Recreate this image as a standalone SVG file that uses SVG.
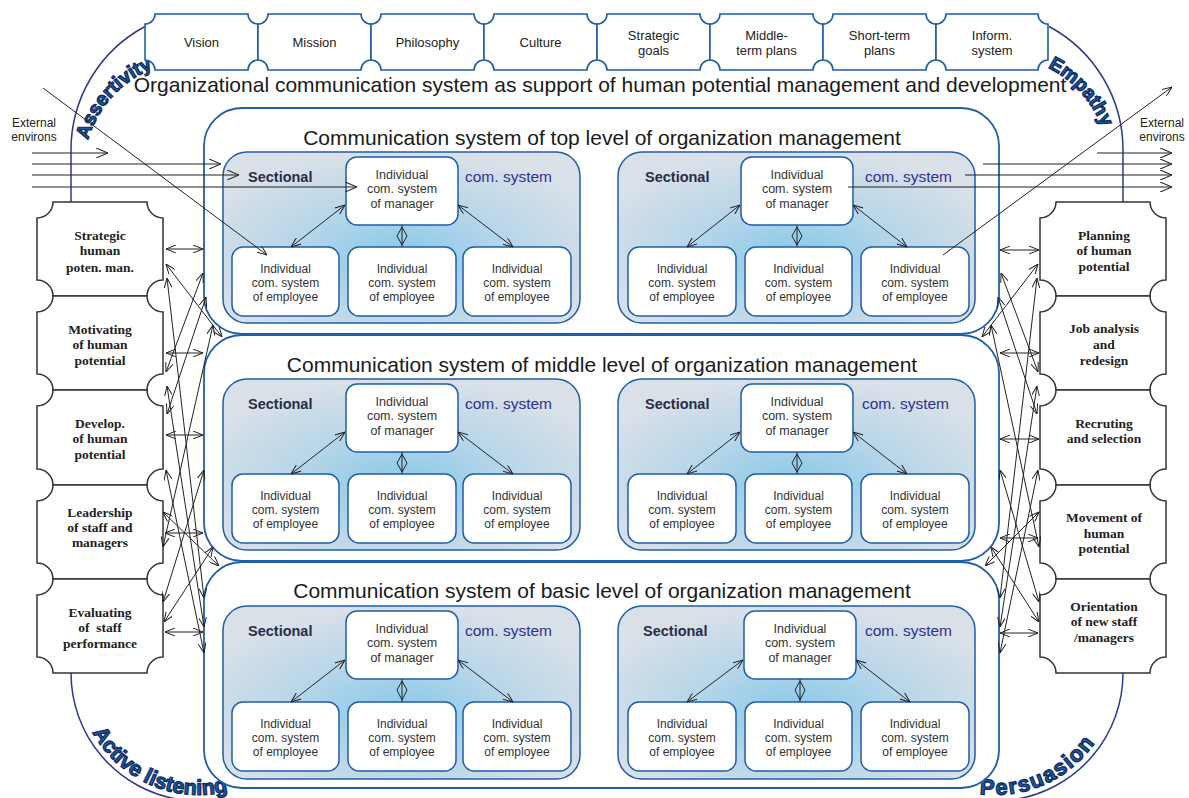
<svg xmlns="http://www.w3.org/2000/svg" width="1189" height="798" viewBox="0 0 1189 798">
<style>
.cell{fill:#fff;stroke:#1f5ea8;stroke-width:1.6}
.lvl{fill:#fff;stroke:#1f5ea8;stroke-width:1.8}
.sec{fill:url(#sg);stroke:#1f5ea8;stroke-width:1.5}
.ibox{fill:#fff;stroke:#1f5ea8;stroke-width:1.5}
.hbox{fill:#fff;stroke:#333;stroke-width:1.5}
.ln{stroke:#222;stroke-width:1;fill:none}
.ln2{stroke:#222;stroke-width:1;fill:none;marker-start:url(#ah);marker-end:url(#ah)}
.ln1{stroke:#222;stroke-width:1;fill:none;marker-end:url(#ah)}
.ext{stroke:#222;stroke-width:1.2;fill:none;marker-end:url(#ahL)}
.arc{stroke:#2b3990;stroke-width:1.5;fill:none}
.t{font-family:"Liberation Sans",Arial,sans-serif;fill:#222;text-anchor:middle}
.bt{font-size:13px}
.title{font-size:21px;fill:#1a1a1a}
.lt{font-size:21px;fill:#1a1a1a}
.it{font-size:12.5px;fill:#333}
.et{font-size:12px;fill:#333}
.sl{font-family:"Liberation Sans",Arial,sans-serif;font-size:14.5px;font-weight:bold;fill:#2b2d45}
.cs{font-family:"Liberation Sans",Arial,sans-serif;font-size:15.5px;fill:#2e3192}
.ht{font-family:"Liberation Serif","Times New Roman",serif;font-weight:bold;font-size:13.5px;fill:#222;text-anchor:middle}
.env{font-family:"Liberation Sans",Arial,sans-serif;font-size:12px;fill:#222;text-anchor:middle}
.sk{font-family:"Liberation Sans",Arial,sans-serif;font-weight:bold;fill:#1c5aa6;stroke:#0d2b5e;stroke-width:1.2}
</style>
<defs>
<radialGradient id="sg" cx="0.5" cy="0.6" r="0.6" fx="0.5" fy="0.62">
<stop offset="0" stop-color="#86c8ea"/>
<stop offset="0.5" stop-color="#b6d6e9"/>
<stop offset="1" stop-color="#d9e0e8"/>
</radialGradient>
<marker id="ah" viewBox="0 0 10 8" refX="10" refY="4" markerWidth="10" markerHeight="8" markerUnits="userSpaceOnUse" orient="auto-start-reverse">
<path d="M0,0 L10,4 L0,8" fill="none" stroke="#222" stroke-width="1"/>
</marker>
<marker id="ahL" viewBox="0 0 12 10" refX="12" refY="5" markerWidth="12" markerHeight="10" markerUnits="userSpaceOnUse" orient="auto-start-reverse">
<path d="M0,0 L12,5 L0,10" fill="none" stroke="#222" stroke-width="1.1"/>
</marker>
<path id="pA" d="M88,140 A110,110 0 0 1 160,66"/>
<path id="pE" d="M1044,66 A110,110 0 0 1 1106,140"/>
<path id="pL" d="M77,673 A122,122 0 0 0 321,673"/>
<path id="pP" d="M873,673 A122,122 0 0 0 1117,673"/>
</defs>

<g id="outer-frame">
<path class="arc" d="M71,202 L71,150 A140,140 0 0 1 145,26.5"/>
<path class="arc" d="M1123,202 L1123,150 A140,140 0 0 0 1049,26.5"/>
<path class="arc" d="M71,673 A128,128 0 0 0 180,799.6"/>
<path class="arc" d="M1123,673 A128,128 0 0 1 1014,799.6"/>
<text class="sk" font-size="19.5"><textPath href="#pA">Assertivity</textPath></text>
<text class="sk" font-size="19.5"><textPath href="#pE" startOffset="4">Empathy</textPath></text>
<text class="sk" font-size="21.5"><textPath href="#pL" startOffset="62">Active listening</textPath></text>
<text class="sk" font-size="22" letter-spacing="1.5"><textPath href="#pP" startOffset="176">Persuasion</textPath></text>
</g>

<g id="banner">
<g id="cell-vision"><path class="cell" d="M155,14 L248,14 A10,10 0 0 0 258,24 L258,60 A10,10 0 0 0 248,70 L155,70 A10,10 0 0 0 145,60 L145,24 A10,10 0 0 0 155,14 Z"/><text class="t bt" x="201.5" y="46.5">Vision</text></g>
<g id="cell-mission"><path class="cell" d="M268,14 L361,14 A10,10 0 0 0 371,24 L371,60 A10,10 0 0 0 361,70 L268,70 A10,10 0 0 0 258,60 L258,24 A10,10 0 0 0 268,14 Z"/><text class="t bt" x="314.5" y="46.5">Mission</text></g>
<g id="cell-philosophy"><path class="cell" d="M381,14 L474,14 A10,10 0 0 0 484,24 L484,60 A10,10 0 0 0 474,70 L381,70 A10,10 0 0 0 371,60 L371,24 A10,10 0 0 0 381,14 Z"/><text class="t bt" x="427.5" y="46.5">Philosophy</text></g>
<g id="cell-culture"><path class="cell" d="M494,14 L587,14 A10,10 0 0 0 597,24 L597,60 A10,10 0 0 0 587,70 L494,70 A10,10 0 0 0 484,60 L484,24 A10,10 0 0 0 494,14 Z"/><text class="t bt" x="540.5" y="46.5">Culture</text></g>
<g id="cell-goals"><path class="cell" d="M607,14 L700,14 A10,10 0 0 0 710,24 L710,60 A10,10 0 0 0 700,70 L607,70 A10,10 0 0 0 597,60 L597,24 A10,10 0 0 0 607,14 Z"/><text class="t bt" x="653.5" y="39.5">Strategic</text><text class="t bt" x="653.5" y="55">goals</text></g>
<g id="cell-middle"><path class="cell" d="M720,14 L813,14 A10,10 0 0 0 823,24 L823,60 A10,10 0 0 0 813,70 L720,70 A10,10 0 0 0 710,60 L710,24 A10,10 0 0 0 720,14 Z"/><text class="t bt" x="766.5" y="39.5">Middle-</text><text class="t bt" x="766.5" y="55">term plans</text></g>
<g id="cell-short"><path class="cell" d="M833,14 L926,14 A10,10 0 0 0 936,24 L936,60 A10,10 0 0 0 926,70 L833,70 A10,10 0 0 0 823,60 L823,24 A10,10 0 0 0 833,14 Z"/><text class="t bt" x="879.5" y="39.5">Short-term</text><text class="t bt" x="879.5" y="55">plans</text></g>
<g id="cell-inform"><path class="cell" d="M946,14 L1038,14 A10,10 0 0 0 1048,24 L1048,60 A10,10 0 0 0 1038,70 L946,70 A10,10 0 0 0 936,60 L936,24 A10,10 0 0 0 946,14 Z"/><text class="t bt" x="992" y="39.5">Inform.</text><text class="t bt" x="992" y="55">system</text></g>
</g>

<text id="main-title" class="t title" x="600" y="92">Organizational communication system as support of human potential management and development</text>

<g id="level-top"><rect class="lvl" x="204" y="108" width="795" height="226" rx="38"/><text class="t lt" x="602" y="145">Communication system of top level of organization management</text></g>
<g id="level-middle"><rect class="lvl" x="204" y="335" width="795" height="226" rx="38"/><text class="t lt" x="602" y="372">Communication system of middle level of organization management</text></g>
<g id="level-basic"><rect class="lvl" x="204" y="562" width="795" height="226" rx="38"/><text class="t lt" x="602" y="598">Communication system of basic level of organization management</text></g>

<!-- Sectional top-left -->
<g id="sec-top-left">
<rect class="sec" x="223" y="152" width="357" height="171" rx="24"/>
<text class="sl" x="248" y="182">Sectional</text><text class="cs" x="465" y="182">com. system</text>
<g id="mgr-tl"><rect class="ibox" x="346" y="157" width="112" height="68" rx="11"/><text class="t it" x="402" y="178.5">Individual</text><text class="t it" x="402" y="193">com. system</text><text class="t it" x="402" y="207.5">of manager</text></g>
<g id="emp-tl-1"><rect class="ibox" x="232" y="247" width="107" height="69" rx="11"/><text class="t et" x="285.5" y="272.5">Individual</text><text class="t et" x="285.5" y="286.5">com. system</text><text class="t et" x="285.5" y="300.5">of employee</text></g>
<g id="emp-tl-2"><rect class="ibox" x="348" y="247" width="108" height="69" rx="11"/><text class="t et" x="402" y="272.5">Individual</text><text class="t et" x="402" y="286.5">com. system</text><text class="t et" x="402" y="300.5">of employee</text></g>
<g id="emp-tl-3"><rect class="ibox" x="463" y="247" width="108" height="69" rx="11"/><text class="t et" x="517" y="272.5">Individual</text><text class="t et" x="517" y="286.5">com. system</text><text class="t et" x="517" y="300.5">of employee</text></g>
</g>
<!-- Sectional top-right -->
<g id="sec-top-right">
<rect class="sec" x="618" y="152" width="357" height="171" rx="24"/>
<text class="sl" x="645" y="182">Sectional</text><text class="cs" x="865" y="182">com. system</text>
<g id="mgr-tr"><rect class="ibox" x="741" y="157" width="112" height="68" rx="11"/><text class="t it" x="797" y="178.5">Individual</text><text class="t it" x="797" y="193">com. system</text><text class="t it" x="797" y="207.5">of manager</text></g>
<g id="emp-tr-1"><rect class="ibox" x="628" y="247" width="108" height="69" rx="11"/><text class="t et" x="682" y="272.5">Individual</text><text class="t et" x="682" y="286.5">com. system</text><text class="t et" x="682" y="300.5">of employee</text></g>
<g id="emp-tr-2"><rect class="ibox" x="745" y="247" width="107" height="69" rx="11"/><text class="t et" x="798.5" y="272.5">Individual</text><text class="t et" x="798.5" y="286.5">com. system</text><text class="t et" x="798.5" y="300.5">of employee</text></g>
<g id="emp-tr-3"><rect class="ibox" x="861" y="247" width="108" height="69" rx="11"/><text class="t et" x="915" y="272.5">Individual</text><text class="t et" x="915" y="286.5">com. system</text><text class="t et" x="915" y="300.5">of employee</text></g>
</g>

<!-- Sectional middle-left -->
<g id="sec-mid-left">
<rect class="sec" x="223" y="379" width="357" height="171" rx="24"/>
<text class="sl" x="248" y="409">Sectional</text><text class="cs" x="465" y="409">com. system</text>
<g id="mgr-ml"><rect class="ibox" x="346" y="384" width="112" height="68" rx="11"/><text class="t it" x="402" y="405.5">Individual</text><text class="t it" x="402" y="420">com. system</text><text class="t it" x="402" y="434.5">of manager</text></g>
<g id="emp-ml-1"><rect class="ibox" x="232" y="474" width="107" height="69" rx="11"/><text class="t et" x="285.5" y="499.5">Individual</text><text class="t et" x="285.5" y="513.5">com. system</text><text class="t et" x="285.5" y="527.5">of employee</text></g>
<g id="emp-ml-2"><rect class="ibox" x="348" y="474" width="108" height="69" rx="11"/><text class="t et" x="402" y="499.5">Individual</text><text class="t et" x="402" y="513.5">com. system</text><text class="t et" x="402" y="527.5">of employee</text></g>
<g id="emp-ml-3"><rect class="ibox" x="463" y="474" width="108" height="69" rx="11"/><text class="t et" x="517" y="499.5">Individual</text><text class="t et" x="517" y="513.5">com. system</text><text class="t et" x="517" y="527.5">of employee</text></g>
</g>
<!-- Sectional middle-right -->
<g id="sec-mid-right">
<rect class="sec" x="618" y="379" width="357" height="171" rx="24"/>
<text class="sl" x="645" y="409">Sectional</text><text class="cs" x="862" y="409">com. system</text>
<g id="mgr-mr"><rect class="ibox" x="741" y="384" width="112" height="68" rx="11"/><text class="t it" x="797" y="405.5">Individual</text><text class="t it" x="797" y="420">com. system</text><text class="t it" x="797" y="434.5">of manager</text></g>
<g id="emp-mr-1"><rect class="ibox" x="628" y="474" width="108" height="69" rx="11"/><text class="t et" x="682" y="499.5">Individual</text><text class="t et" x="682" y="513.5">com. system</text><text class="t et" x="682" y="527.5">of employee</text></g>
<g id="emp-mr-2"><rect class="ibox" x="745" y="474" width="107" height="69" rx="11"/><text class="t et" x="798.5" y="499.5">Individual</text><text class="t et" x="798.5" y="513.5">com. system</text><text class="t et" x="798.5" y="527.5">of employee</text></g>
<g id="emp-mr-3"><rect class="ibox" x="861" y="474" width="108" height="69" rx="11"/><text class="t et" x="915" y="499.5">Individual</text><text class="t et" x="915" y="513.5">com. system</text><text class="t et" x="915" y="527.5">of employee</text></g>
</g>

<!-- Sectional basic-left -->
<g id="sec-bas-left">
<rect class="sec" x="223" y="606" width="357" height="173" rx="24"/>
<text class="sl" x="248" y="636">Sectional</text><text class="cs" x="465" y="636">com. system</text>
<g id="mgr-bl"><rect class="ibox" x="346" y="611" width="112" height="68" rx="11"/><text class="t it" x="402" y="632.5">Individual</text><text class="t it" x="402" y="647">com. system</text><text class="t it" x="402" y="661.5">of manager</text></g>
<g id="emp-bl-1"><rect class="ibox" x="232" y="702" width="107" height="69" rx="11"/><text class="t et" x="285.5" y="727.5">Individual</text><text class="t et" x="285.5" y="741.5">com. system</text><text class="t et" x="285.5" y="755.5">of employee</text></g>
<g id="emp-bl-2"><rect class="ibox" x="348" y="702" width="108" height="69" rx="11"/><text class="t et" x="402" y="727.5">Individual</text><text class="t et" x="402" y="741.5">com. system</text><text class="t et" x="402" y="755.5">of employee</text></g>
<g id="emp-bl-3"><rect class="ibox" x="463" y="702" width="108" height="69" rx="11"/><text class="t et" x="517" y="727.5">Individual</text><text class="t et" x="517" y="741.5">com. system</text><text class="t et" x="517" y="755.5">of employee</text></g>
</g>
<!-- Sectional basic-right -->
<g id="sec-bas-right">
<rect class="sec" x="618" y="606" width="357" height="173" rx="24"/>
<text class="sl" x="643" y="636">Sectional</text><text class="cs" x="865" y="636">com. system</text>
<g id="mgr-br"><rect class="ibox" x="744" y="611" width="112" height="68" rx="11"/><text class="t it" x="800" y="632.5">Individual</text><text class="t it" x="800" y="647">com. system</text><text class="t it" x="800" y="661.5">of manager</text></g>
<g id="emp-br-1"><rect class="ibox" x="628" y="702" width="108" height="69" rx="11"/><text class="t et" x="682" y="727.5">Individual</text><text class="t et" x="682" y="741.5">com. system</text><text class="t et" x="682" y="755.5">of employee</text></g>
<g id="emp-br-2"><rect class="ibox" x="745" y="702" width="107" height="69" rx="11"/><text class="t et" x="798.5" y="727.5">Individual</text><text class="t et" x="798.5" y="741.5">com. system</text><text class="t et" x="798.5" y="755.5">of employee</text></g>
<g id="emp-br-3"><rect class="ibox" x="861" y="702" width="108" height="69" rx="11"/><text class="t et" x="915" y="727.5">Individual</text><text class="t et" x="915" y="741.5">com. system</text><text class="t et" x="915" y="755.5">of employee</text></g>
</g>

<!-- Left HR boxes -->
<g id="left-1"><path class="hbox" d="M53,202 L147,202 A16,16 0 0 0 163,218 L163,280 A16,16 0 0 0 147,296 L53,296 A16,16 0 0 0 37,280 L37,218 A16,16 0 0 0 53,202 Z"/><text class="ht" x="100" y="239.5">Strategic</text><text class="ht" x="100" y="255">human</text><text class="ht" x="100" y="271.5">poten. man.</text></g>
<g id="left-2"><path class="hbox" d="M53,296 L147,296 A16,16 0 0 0 163,312 L163,374 A16,16 0 0 0 147,390 L53,390 A16,16 0 0 0 37,374 L37,312 A16,16 0 0 0 53,296 Z"/><text class="ht" x="100" y="333.5">Motivating</text><text class="ht" x="100" y="349">of human</text><text class="ht" x="100" y="364.5">potential</text></g>
<g id="left-3"><path class="hbox" d="M53,390 L147,390 A16,16 0 0 0 163,406 L163,469 A16,16 0 0 0 147,485 L53,485 A16,16 0 0 0 37,469 L37,406 A16,16 0 0 0 53,390 Z"/><text class="ht" x="100" y="427.5">Develop.</text><text class="ht" x="100" y="443">of human</text><text class="ht" x="100" y="458.5">potential</text></g>
<g id="left-4"><path class="hbox" d="M53,485 L147,485 A16,16 0 0 0 163,501 L163,563 A16,16 0 0 0 147,579 L53,579 A16,16 0 0 0 37,563 L37,501 A16,16 0 0 0 53,485 Z"/><text class="ht" x="100" y="516.5">Leadership</text><text class="ht" x="100" y="531.5">of staff and</text><text class="ht" x="100" y="546.5">managers</text></g>
<g id="left-5"><path class="hbox" d="M53,579 L147,579 A16,16 0 0 0 163,595 L163,657 A16,16 0 0 0 147,673 L53,673 A16,16 0 0 0 37,657 L37,595 A16,16 0 0 0 53,579 Z"/><text class="ht" x="100" y="616.5">Evaluating</text><text class="ht" x="100" y="631.5" xml:space="preserve">of  staff</text><text class="ht" x="100" y="647.5">performance</text></g>

<!-- Right HR boxes -->
<g id="right-1"><path class="hbox" d="M1056,202 L1150,202 A16,16 0 0 0 1166,218 L1166,280 A16,16 0 0 0 1150,296 L1056,296 A16,16 0 0 0 1040,280 L1040,218 A16,16 0 0 0 1056,202 Z"/><text class="ht" x="1104" y="239.5">Planning</text><text class="ht" x="1104" y="255">of human</text><text class="ht" x="1104" y="270.5">potential</text></g>
<g id="right-2"><path class="hbox" d="M1056,296 L1150,296 A16,16 0 0 0 1166,312 L1166,374 A16,16 0 0 0 1150,390 L1056,390 A16,16 0 0 0 1040,374 L1040,312 A16,16 0 0 0 1056,296 Z"/><text class="ht" x="1104" y="332.5">Job analysis</text><text class="ht" x="1104" y="348.5">and</text><text class="ht" x="1104" y="364.5">redesign</text></g>
<g id="right-3"><path class="hbox" d="M1056,390 L1150,390 A16,16 0 0 0 1166,406 L1166,469 A16,16 0 0 0 1150,485 L1056,485 A16,16 0 0 0 1040,469 L1040,406 A16,16 0 0 0 1056,390 Z"/><text class="ht" x="1104" y="427.5">Recruting</text><text class="ht" x="1104" y="443">and selection</text></g>
<g id="right-4"><path class="hbox" d="M1056,485 L1150,485 A16,16 0 0 0 1166,501 L1166,563 A16,16 0 0 0 1150,579 L1056,579 A16,16 0 0 0 1040,563 L1040,501 A16,16 0 0 0 1056,485 Z"/><text class="ht" x="1104" y="521.5">Movement of</text><text class="ht" x="1104" y="537.5">human</text><text class="ht" x="1104" y="552.5">potential</text></g>
<g id="right-5"><path class="hbox" d="M1056,579 L1150,579 A16,16 0 0 0 1166,595 L1166,657 A16,16 0 0 0 1150,673 L1056,673 A16,16 0 0 0 1040,657 L1040,595 A16,16 0 0 0 1056,579 Z"/><text class="ht" x="1104" y="610.5">Orientation</text><text class="ht" x="1104" y="625.5">of new staff</text><text class="ht" x="1104" y="641.5">/managers</text></g>

<g id="env-labels">
<text class="env" x="34" y="127">External</text><text class="env" x="34" y="141">environs</text>
<text class="env" x="1162" y="127">External</text><text class="env" x="1162" y="141">environs</text>
</g>

<g id="connectors">
<path class="ln2" d="M291,247 L345,205"/><path class="ln2" d="M458,205 L513,247"/>
<path class="ln2" d="M687,247 L740,205"/><path class="ln2" d="M853,205 L907,247"/>
<path class="ln2" d="M291,474 L345,432"/><path class="ln2" d="M458,432 L513,474"/>
<path class="ln2" d="M687,474 L740,432"/><path class="ln2" d="M853,432 L907,474"/>
<path class="ln2" d="M291,702 L345,660"/><path class="ln2" d="M458,660 L513,702"/>
<path class="ln2" d="M687,702 L743,660"/><path class="ln2" d="M856,660 L910,702"/>
<path class="ln" d="M402,225 L402,247 M402,227 L407,236 L402,245 L397,236 Z"/>
<path class="ln" d="M797,225 L797,247 M797,227 L802,236 L797,245 L792,236 Z"/>
<path class="ln" d="M402,452 L402,474 M402,454 L407,463 L402,472 L397,463 Z"/>
<path class="ln" d="M797,452 L797,474 M797,454 L802,463 L797,472 L792,463 Z"/>
<path class="ln" d="M402,679 L402,702 M402,681 L407,690 L402,700 L397,690 Z"/>
<path class="ln" d="M800,679 L800,702 M800,681 L805,690 L800,700 L795,690 Z"/>

<path class="ext" d="M32,153 L108,153"/>
<path class="ext" d="M32,164 L221,164"/>
<path class="ext" d="M32,175 L239,175"/>
<path class="ext" d="M32,187 L357,187"/>
<path class="ln1" d="M43,88 L267,255"/>
<path class="ext" d="M1097,153 L1172,153"/>
<path class="ext" d="M983,164 L1172,164"/>
<path class="ext" d="M965,175 L1172,175"/>
<path class="ext" d="M848,187 L1172,187"/>
<path class="ln1" d="M943,255 L1172,87"/>

<path class="ln2" d="M166,249 L203,249"/>
<path class="ln2" d="M166,353 L203,353"/>
<path class="ln2" d="M166,435 L203,435"/>
<path class="ln2" d="M165,533 L203,533"/>
<path class="ln2" d="M165,632 L203,632"/>
<path class="ln2" d="M166,264 L222,337"/>
<path class="ln2" d="M167,278 L204,598"/>
<path class="ln2" d="M166,372 L203,273"/>
<path class="ln2" d="M167,386 L204,627"/>
<path class="ln2" d="M167,414 L206,297"/>
<path class="ln2" d="M166,470 L204,653"/>
<path class="ln2" d="M163,547 L213,325"/>
<path class="ln2" d="M163,512 L219,566"/>
<path class="ln2" d="M164,622 L213,547"/>
<path class="ln2" d="M163,602 L204,470"/>

<path class="ln2" d="M1000,250 L1039,250"/>
<path class="ln2" d="M1000,353 L1039,353"/>
<path class="ln2" d="M1000,439 L1039,439"/>
<path class="ln2" d="M1000,538 L1038,538"/>
<path class="ln2" d="M1000,633 L1038,633"/>
<path class="ln2" d="M1038,264 L982,337"/>
<path class="ln2" d="M1037,278 L1000,598"/>
<path class="ln2" d="M1038,372 L1001,273"/>
<path class="ln2" d="M1037,386 L1000,627"/>
<path class="ln2" d="M1037,414 L998,297"/>
<path class="ln2" d="M1038,470 L1000,653"/>
<path class="ln2" d="M1039,547 L991,325"/>
<path class="ln2" d="M1039,512 L985,566"/>
<path class="ln2" d="M1039,622 L991,547"/>
<path class="ln2" d="M1039,602 L1000,470"/>
</g>
</svg>
